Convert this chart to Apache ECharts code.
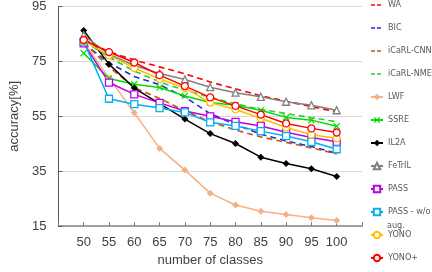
<!DOCTYPE html>
<html><head><meta charset="utf-8">
<script src="https://cdn.jsdelivr.net/npm/echarts@6/dist/echarts.min.js"></script>
<style>html,body{margin:0;padding:0;background:#fff}#c{width:432px;height:272px}</style>
</head><body><div id="c"></div>
<script>
const classes = [50, 55, 60, 65, 70, 75, 80, 85, 90, 95, 100];
const WA        = [83.0, 78.5, 75.5, 73.0, 70.5, 67.5, 65.0, 62.5, 60.5, 58.5, 56.6];
const BIC       = [81.5, 74.5, 69.5, 66.5, 62.0, 56.0, 52.0, 48.5, 46.0, 44.0, 41.5];
const iCaRL_CNN = [82.0, 73.0, 65.5, 61.5, 57.0, 53.0, 50.0, 47.5, 45.5, 43.5, 41.3];
const iCaRL_NME = [82.5, 76.5, 71.5, 67.5, 64.5, 62.0, 59.5, 57.5, 56.0, 54.5, 53.0];
const LWF       = [82.0, 69.0, 56.3, 43.3, 35.4, 27.0, 22.7, 20.4, 19.2, 18.0, 17.0];
const SSRE      = [78.0, 68.8, 66.7, 65.5, 62.4, 60.0, 59.0, 57.2, 54.6, 53.6, 51.4];
const IL2A      = [86.3, 74.0, 65.3, 59.6, 54.0, 48.7, 45.1, 40.1, 37.8, 35.9, 33.1];
const FeTrIL    = [84.5, 77.6, 73.5, 70.6, 68.4, 65.6, 63.6, 62.1, 60.3, 59.0, 57.2];
const PASS      = [81.6, 67.3, 63.0, 59.9, 56.9, 55.0, 53.0, 51.5, 49.2, 47.3, 45.7];
const PASS_wo   = [82.2, 61.4, 59.4, 58.0, 56.4, 52.8, 51.5, 49.6, 47.8, 45.7, 43.0];
const YONO      = [82.5, 77.2, 72.6, 68.6, 65.3, 60.0, 57.5, 54.3, 50.9, 48.3, 47.0];
const YONOplus  = [82.8, 78.4, 74.6, 70.0, 66.0, 61.9, 58.8, 55.6, 52.4, 50.6, 49.1];
const yTicks = [15, 35, 55, 75, 95];

const FONT = '"Liberation Sans", Arial, sans-serif';
const LFONT = '"Liberation Sans Narrow", "DejaVu Sans Condensed", "Liberation Sans", sans-serif';
const pair = arr => classes.map((c, i) => [c, arr[i]]);
const xSym = 'path://M0,1.2L1.2,0L5,3.8L8.8,0L10,1.2L6.2,5L10,8.8L8.8,10L5,6.2L1.2,10L0,8.8L3.8,5Z';

function dashed(name, arr, color) {
  return { name, type: 'line', data: pair(arr), symbol: 'none', z: 2, dashedLine: true,
    lineStyle: { color, width: 1.6, type: [6, 4] }, itemStyle: { color } };
}
function marked(name, arr, color, symbol, size, filled) {
  return { name, type: 'line', data: pair(arr), symbol, symbolSize: size, z: 3,
    lineStyle: { color, width: 1.5 },
    itemStyle: filled ? { color, borderColor: color, borderWidth: 0 }
                      : { color: '#fff', borderColor: color, borderWidth: 1.3 } };
}

const series = [
  dashed('WA', WA, '#FF0000'),
  dashed('BIC', BIC, '#1F2FE0'),
  dashed('iCaRL-CNN', iCaRL_CNN, '#C55A11'),
  dashed('iCaRL-NME', iCaRL_NME, '#33CC33'),
  marked('LWF', LWF, '#F4B183', 'diamond', 7, true),
  marked('SSRE', SSRE, '#00DD00', xSym, 7, true),
  marked('IL2A', IL2A, '#000000', 'diamond', 7, true),
  marked('FeTrIL', FeTrIL, '#808080', 'triangle', 7, false),
  marked('PASS', PASS, '#BF00E6', 'rect', 7, false),
  marked('PASS - w/o aug.', PASS_wo, '#00B0F0', 'rect', 7, false),
  marked('YONO', YONO, '#FFC000', 'circle', 7, false),
  marked('YONO+', YONOplus, '#FF0000', 'circle', 7, false)
];

const legendData = series.map(s => s.dashedLine
  ? { name: s.name, itemStyle: { color: 'rgba(0,0,0,0)', borderColor: 'rgba(0,0,0,0)', borderWidth: 0 },
      lineStyle: { type: [4, 2], width: 1.6 } }
  : { name: s.name });
series.forEach(s => delete s.dashedLine);

const chart = echarts.init(document.getElementById('c'), null, { renderer: 'canvas' });
chart.setOption({
  animation: false,
  backgroundColor: '#fff',
  textStyle: { fontFamily: FONT },
  grid: { left: 43, right: 70, top: 5, bottom: 38, containLabel: false },
  legend: {
    orient: 'vertical', left: 370, top: 0.5, padding: 0,
    itemWidth: 12, itemHeight: 8, itemGap: 14,
    textStyle: { fontSize: 9, color: '#595959', fontFamily: LFONT },
    formatter: n => n === 'PASS - w/o aug.' ? 'PASS - w/o' : n,
    data: legendData
  },
  graphic: [{ type: 'text', left: 387, top: 221,
    style: { text: 'aug.', fontSize: 9, fill: '#595959', fontFamily: LFONT } }],
  xAxis: {
    type: 'value', min: 45, max: 105, interval: 5,
    name: 'number of classes', nameLocation: 'middle', nameGap: 26,
    nameTextStyle: { fontSize: 13, color: '#404040', fontFamily: FONT },
    axisLine: { lineStyle: { color: '#A0A0A0', width: 2 } },
    axisTick: { inside: true, length: 4, lineStyle: { color: '#808080' } },
    axisLabel: { margin: 10, fontSize: 13, color: '#404040', fontFamily: FONT,
      formatter: v => classes.indexOf(v) >= 0 ? String(v) : '' },
    splitLine: { show: false }
  },
  yAxis: {
    type: 'value', min: yTicks[0], max: yTicks[yTicks.length - 1], interval: 20,
    name: 'accuracy[%]', nameLocation: 'middle', nameGap: 30,
    nameTextStyle: { fontSize: 13, color: '#404040', fontFamily: FONT },
    axisLine: { show: true, lineStyle: { color: '#595959', width: 1 } },
    axisTick: { show: true, inside: true, length: 4, lineStyle: { color: '#595959' } },
    axisLabel: { margin: 12, fontSize: 13, color: '#404040', fontFamily: FONT },
    splitLine: { show: true, lineStyle: { color: '#D9D9D9', width: 1 } }
  },
  series
});
</script></body></html>
